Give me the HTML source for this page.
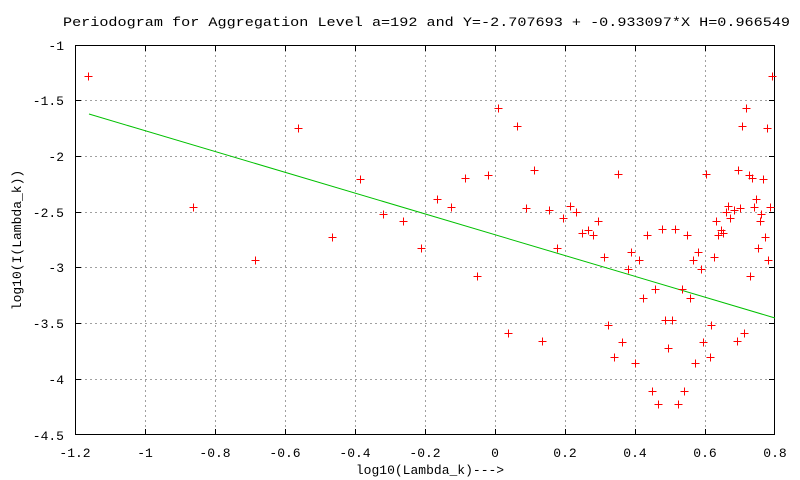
<!DOCTYPE html>
<html><head><meta charset="utf-8"><style>body{margin:0;background:#fff}svg{display:block}</style></head>
<body>
<svg width="800" height="480" xmlns="http://www.w3.org/2000/svg" font-family="Liberation Mono, monospace" font-size="13">
<rect width="800" height="480" fill="#fff"/>
<g stroke="#a0a0a0" stroke-dasharray="2,3" stroke-width="1">
<line x1="145.5" y1="45" x2="145.5" y2="435"/><line x1="215.5" y1="45" x2="215.5" y2="435"/>
<line x1="285.5" y1="45" x2="285.5" y2="435"/><line x1="355.5" y1="45" x2="355.5" y2="435"/>
<line x1="425.5" y1="45" x2="425.5" y2="435"/><line x1="495.5" y1="45" x2="495.5" y2="435"/>
<line x1="565.5" y1="45" x2="565.5" y2="435"/><line x1="635.5" y1="45" x2="635.5" y2="435"/>
<line x1="705.5" y1="45" x2="705.5" y2="435"/>
<line x1="75" y1="100.5" x2="775" y2="100.5"/><line x1="75" y1="156.5" x2="775" y2="156.5"/>
<line x1="75" y1="212.5" x2="775" y2="212.5"/><line x1="75" y1="267.5" x2="775" y2="267.5"/>
<line x1="75" y1="323.5" x2="775" y2="323.5"/><line x1="75" y1="379.5" x2="775" y2="379.5"/>
</g>
<rect x="75.5" y="45.5" width="699" height="389" fill="none" stroke="#000"/>
<g stroke="#000">
<path d="M145.5 435v-6M215.5 435v-6M285.5 435v-6M355.5 435v-6M425.5 435v-6M495.5 435v-6M565.5 435v-6M635.5 435v-6M705.5 435v-6
M145.5 45v6M215.5 45v6M285.5 45v6M355.5 45v6M425.5 45v6M495.5 45v6M565.5 45v6M635.5 45v6M705.5 45v6
M75 100.5h6M75 156.5h6M75 212.5h6M75 267.5h6M75 323.5h6M75 379.5h6
M775 100.5h-6M775 156.5h-6M775 212.5h-6M775 267.5h-6M775 323.5h-6M775 379.5h-6"/>
</g>
<g text-anchor="end">
<text x="64" y="50">-1</text><text x="64" y="105">-1.5</text><text x="64" y="161">-2</text>
<text x="64" y="217">-2.5</text><text x="64" y="272">-3</text><text x="64" y="328">-3.5</text>
<text x="64" y="384">-4</text><text x="64" y="440">-4.5</text>
</g>
<g text-anchor="middle">
<text x="75" y="457">-1.2</text><text x="145" y="457">-1</text><text x="215" y="457">-0.8</text>
<text x="285" y="457">-0.6</text><text x="355" y="457">-0.4</text><text x="425" y="457">-0.2</text>
<text x="495" y="457">0</text><text x="565" y="457">0.2</text><text x="635" y="457">0.4</text>
<text x="705" y="457">0.6</text><text x="775" y="457">0.8</text>
</g>
<text x="430" y="474" text-anchor="middle">log10(Lambda_k)---&gt;</text>
<text x="0" y="0" text-anchor="middle" transform="translate(21,240) rotate(-90)">log10(I(Lambda_k))</text>
<text x="63" y="26" textLength="727" lengthAdjust="spacingAndGlyphs">Periodogram for Aggregation Level a=192 and Y=-2.707693 + -0.933097*X H=0.966549</text>
<line x1="89" y1="114" x2="775" y2="318" stroke="#00c000" stroke-width="1"/>
<g stroke="#f00" stroke-width="1" id="pts"></g>
<script>
var p=[[88,76],[193,207],[255,260],[298,128],[332,237],[360,179],[383,214],[403,221],[421,248],[437,199],[451,207],[465,178],[488,175],[498,108],[517,126],[534,170],[526,208],[477,276],[508,333],
[772,76],[746,108],[742,126],[767,128],[618,174],[706,174],[738,170],[749,175],[752,178],[763,179],[756,199],[549,210],[570,206],[576,212],[563,218],[598,221],[582,233],[588,230],[593,235],[557,248],[604,257],[631,252],[639,260],[628,269],[647,235],[662,229],[675,229],[687,235],[698,252],[693,260],[701,269],[714,257],[716,221],[718,235],[723,233],[721,230],[726,212],[728,206],[730,218],[734,210],[740,208],[754,207],[761,214],[760,221],[765,237],[758,248],[768,260],[770,207],[750,276],[655,289],[643,298],[682,289],[690,298],[665,320],[672,320],[608,325],[711,325],[542,341],[622,342],[703,342],[737,341],[744,333],[668,348],[614,357],[710,357],[635,363],[695,363],[652,391],[684,391],[658,404],[678,404]];
var d='';p.forEach(function(a){var x=a[0]+.5,y=a[1]+.5;d+='M'+(x-4)+' '+y+'h8M'+x+' '+(y-4)+'v8';});
var e=document.createElementNS('http://www.w3.org/2000/svg','path');e.setAttribute('d',d);document.getElementById('pts').appendChild(e);
</script>
</svg>
</body></html>
